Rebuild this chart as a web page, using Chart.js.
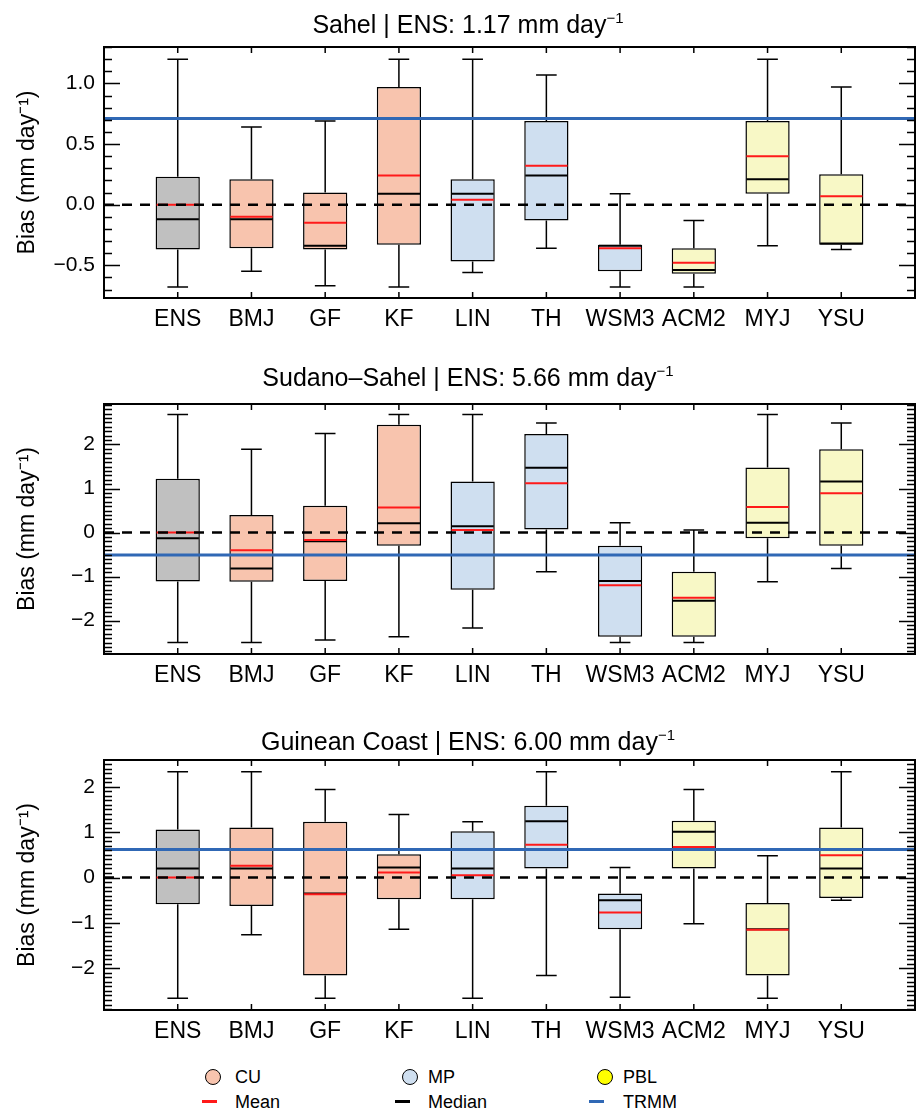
<!DOCTYPE html>
<html>
<head>
<meta charset="utf-8">
<script src="https://cdn.jsdelivr.net/npm/chart.js@4.4.1/dist/chart.umd.min.js"></script>
<style>
  body { margin: 0; background: #fff; font-family: "Liberation Sans", Arial, Helvetica, sans-serif; color: #000; }
  #page { position: relative; width: 923px; height: 1117px; overflow: hidden; }
  .panel { position: absolute; left: 0; width: 923px; }
  .title { position: absolute; left: 168px; width: 600px; text-align: center; font-size: 25px; line-height: 28px; white-space: nowrap; }
  .title sup { font-size: 15px; line-height: 0; vertical-align: 10px; }
  .leg { position: absolute; font-size: 18px; line-height: 20px; white-space: nowrap; }
  .dot { position: absolute; width: 14px; height: 14px; border: 1.5px solid #000; border-radius: 50%; }
  .dash { position: absolute; width: 15px; height: 3px; }
</style>
</head>
<body>
<div id="page">
  <div class="panel" style="top:0"><canvas id="c1" width="923" height="345"></canvas></div>
  <div class="panel" style="top:345px"><canvas id="c2" width="923" height="360"></canvas></div>
  <div class="panel" style="top:705px"><canvas id="c3" width="923" height="345"></canvas></div>

  <div class="title" style="top:10px">Sahel | ENS: 1.17 mm day<sup>−1</sup></div>
  <div class="title" style="top:363px">Sudano–Sahel | ENS: 5.66 mm day<sup>−1</sup></div>
  <div class="title" style="top:727px">Guinean Coast | ENS: 6.00 mm day<sup>−1</sup></div>

  <!-- legend -->
  <div class="dot" style="left:205px;top:1069px;background:#f8c4ae"></div>
  <div class="leg" style="left:235px;top:1067px">CU</div>
  <div class="dot" style="left:402px;top:1069px;background:#cfdff0"></div>
  <div class="leg" style="left:428px;top:1067px">MP</div>
  <div class="dot" style="left:597px;top:1069px;background:#ffff00"></div>
  <div class="leg" style="left:623px;top:1067px">PBL</div>

  <div class="dash" style="left:202px;top:1100px;background:#ff1a1a"></div>
  <div class="leg" style="left:235px;top:1092px">Mean</div>
  <div class="dash" style="left:395px;top:1100px;background:#000"></div>
  <div class="leg" style="left:428px;top:1092px">Median</div>
  <div class="dash" style="left:589px;top:1100px;background:#3068b5"></div>
  <div class="leg" style="left:623px;top:1092px">TRMM</div>
</div>

<script>
// categories
const categories = ['ENS', 'BMJ', 'GF', 'KF', 'LIN', 'TH', 'WSM3', 'ACM2', 'MYJ', 'YSU'];

// Sahel
const sahelLow    = [-0.68, -0.55, -0.67, -0.68, -0.56, -0.36, -0.68, -0.68, -0.34, -0.37];
const sahelQ1     = [-0.37, -0.36, -0.37, -0.33, -0.47, -0.13, -0.55, -0.57,  0.09, -0.33];
const sahelMedian = [-0.12, -0.12, -0.34,  0.09,  0.09,  0.24, -0.34, -0.54,  0.21, -0.32];
const sahelMean   = [ 0.00, -0.10, -0.15,  0.24,  0.04,  0.32, -0.36, -0.48,  0.40,  0.07];
const sahelQ3     = [ 0.23,  0.21,  0.10,  0.97,  0.21,  0.69, -0.33, -0.36,  0.69,  0.25];
const sahelHigh   = [ 1.20,  0.64,  0.69,  1.20,  1.20,  1.07,  0.09, -0.13,  1.20,  0.97];
const sahelTrmm = 0.71;
const sahelTicks = [-0.5, 0, 0.5, 1.0];

// Sudano-Sahel
const sudanLow    = [-2.50, -2.50, -2.44, -2.37, -2.17, -0.89, -2.50, -2.50, -1.12, -0.82];
const sudanQ1     = [-1.11, -1.12, -1.10, -0.30, -1.30,  0.07, -2.37, -2.37, -0.13, -0.30];
const sudanMedian = [-0.13, -0.82, -0.20,  0.21,  0.14,  1.47, -1.10, -1.55,  0.22,  1.16];
const sudanMean   = [ 0.00, -0.40, -0.17,  0.57,  0.06,  1.12, -1.20, -1.48,  0.58,  0.89];
const sudanQ3     = [ 1.22,  0.40,  0.61,  2.45,  1.16,  2.24, -0.30, -0.89,  1.48,  1.89];
const sudanHigh   = [ 2.68,  1.89,  2.25,  2.68,  2.68,  2.49,  0.22,  0.06,  2.68,  2.49];
const sudanTrmm = -0.51;
const sudanTicks = [-2, -1, 0, 1, 2];

// Guinean Coast
const guineaLow    = [-2.66, -1.26, -2.66, -1.14, -2.66, -2.16, -2.64, -1.02, -2.66, -0.50];
const guineaQ1     = [-0.59, -0.63, -2.16, -0.48, -0.48,  0.20, -1.14,  0.20, -2.16, -0.45];
const guineaMedian = [ 0.20,  0.20, -0.35,  0.22,  0.20,  1.24, -0.50,  1.01, -1.14,  0.20];
const guineaMean   = [ 0.00,  0.26, -0.37,  0.11,  0.05,  0.72, -0.77,  0.67, -1.15,  0.49];
const guineaQ3     = [ 1.06,  1.10,  1.23,  0.51,  1.02,  1.58, -0.35,  1.25, -0.56,  1.10];
const guineaHigh   = [ 2.33,  2.33,  1.94,  1.39,  1.23,  2.33,  0.22,  1.94,  0.48,  2.33];
const guineaTrmm = 0.62;
const guineaTicks = [-2, -1, 0, 1, 2];

// styles
const FONT = '"Liberation Sans", Arial, Helvetica, sans-serif';
const boxFill = ['#c0c0c0', '#f8c4ae', '#f8c4ae', '#f8c4ae', '#cfdff0', '#cfdff0', '#cfdff0', '#f8f8c6', '#f8f8c6', '#f8f8c6'];
const MEAN_COLOR = '#ff1a1a';
const TRMM_COLOR = '#3068b5';

function fmt(v, dec) {
    return v.toFixed(dec).replace('-', '\u2212');
}

function makePanel(id, p) {
    const labels = [''].concat(categories, ['']);
    const boxes = [null].concat(p.q1.map((q, i) => [q, p.q3[i]]), [null]);

    // whiskers, medians and means, drawn right after the boxes
    const whiskers = {
        id: 'whiskers',
        afterDatasetDraw(chart, args) {
            if (args.index !== 0) return;
            const { ctx, scales: { x, y } } = chart;
            const unit = x.getPixelForValue(1) - x.getPixelForValue(0);
            const half = unit * 0.3, cap = unit * 0.14;
            ctx.save();
            categories.forEach((c, i) => {
                const cx = x.getPixelForValue(i + 1);
                const yLow = y.getPixelForValue(p.low[i]), yHigh = y.getPixelForValue(p.high[i]);
                const yQ1 = y.getPixelForValue(p.q1[i]), yQ3 = y.getPixelForValue(p.q3[i]);
                ctx.strokeStyle = '#000';
                ctx.lineWidth = 1.5;
                ctx.beginPath();
                ctx.moveTo(cx, yQ3); ctx.lineTo(cx, yHigh);
                ctx.moveTo(cx - cap, yHigh); ctx.lineTo(cx + cap, yHigh);
                ctx.moveTo(cx, yQ1); ctx.lineTo(cx, yLow);
                ctx.moveTo(cx - cap, yLow); ctx.lineTo(cx + cap, yLow);
                ctx.stroke();
                // median
                ctx.lineWidth = 2;
                const ym = y.getPixelForValue(p.median[i]);
                ctx.beginPath();
                ctx.moveTo(cx - half + 1, ym); ctx.lineTo(cx + half - 1, ym);
                ctx.stroke();
                // mean
                ctx.strokeStyle = MEAN_COLOR;
                const ya = y.getPixelForValue(p.mean[i]);
                ctx.beginPath();
                ctx.moveTo(cx - half + 1, ya); ctx.lineTo(cx + half - 1, ya);
                ctx.stroke();
            });
            ctx.restore();
        }
    };

    // frame with inward major / minor ticks
    const frame = {
        id: 'frame',
        afterDraw(chart) {
            const { ctx, chartArea: a, scales: { x, y } } = chart;
            ctx.save();
            ctx.strokeStyle = '#000';
            ctx.lineWidth = 1.5;
            ctx.beginPath();
            for (let k = Math.ceil(p.min * 10); k <= Math.floor(p.max * 10); k++) {
                const v = k / 10;
                const isMajor = p.ticks.some(t => Math.abs(t - v) < 1e-6);
                const len = isMajor ? 16 : 8;
                const py = Math.round(y.getPixelForValue(v)) + 0.5;
                ctx.moveTo(a.left, py); ctx.lineTo(a.left + len, py);
                ctx.moveTo(a.right, py); ctx.lineTo(a.right - len, py);
            }
            categories.forEach((c, i) => {
                const px = x.getPixelForValue(i + 1);
                ctx.moveTo(px, a.top); ctx.lineTo(px, a.top + 6);
                ctx.moveTo(px, a.bottom); ctx.lineTo(px, a.bottom - 6);
            });
            ctx.stroke();
            ctx.lineWidth = 2;
            ctx.strokeRect(a.left, a.top, a.right - a.left, a.bottom - a.top);
            ctx.restore();
        }
    };

    return new Chart(document.getElementById(id), {
        type: 'bar',
        data: {
            labels: labels,
            datasets: [
                {
                    data: boxes,
                    backgroundColor: [null].concat(boxFill, [null]),
                    borderColor: '#000',
                    borderWidth: 1.5,
                    borderSkipped: false,
                    barPercentage: 1,
                    categoryPercentage: 0.6,
                    order: 3
                },
                {
                    type: 'line',
                    data: labels.map(() => 0),
                    borderColor: '#000',
                    borderWidth: 2.5,
                    borderDash: [10, 8],
                    pointRadius: 0,
                    order: 2
                },
                {
                    type: 'line',
                    data: labels.map(() => p.trmm),
                    borderColor: TRMM_COLOR,
                    borderWidth: 3,
                    pointRadius: 0,
                    order: 1
                }
            ]
        },
        options: {
            responsive: false,
            animation: false,
            devicePixelRatio: 1,
            layout: { padding: { top: p.padTop, right: 3, left: 0, bottom: 0 } },
            plugins: { legend: { display: false }, tooltip: { enabled: false }, title: { display: false } },
            scales: {
                x: {
                    type: 'category',
                    offset: false,
                    grid: { display: false, drawTicks: false },
                    border: { display: false },
                    ticks: { color: '#000', font: { family: FONT, size: 23 }, padding: 8, autoSkip: false, maxRotation: 0 },
                    afterFit: s => { s.height = p.xHeight; }
                },
                y: {
                    min: p.min,
                    max: p.max,
                    grid: { display: false, drawTicks: false },
                    border: { display: false },
                    ticks: { color: '#000', font: { family: FONT, size: 21 }, padding: 9, callback: v => fmt(v, p.dec) },
                    afterBuildTicks: s => { s.ticks = p.ticks.map(v => ({ value: v })); },
                    afterFit: s => { s.width = 104; },
                    title: {
                        display: true,
                        text: 'Bias (mm day\u207B\u00B9)',
                        color: '#000',
                        font: { family: FONT, size: 23 },
                        padding: { top: 14, bottom: 0 }
                    }
                }
            }
        },
        plugins: [whiskers, frame]
    });
}

makePanel('c1', {
    low: sahelLow, q1: sahelQ1, median: sahelMedian, mean: sahelMean, q3: sahelQ3, high: sahelHigh,
    trmm: sahelTrmm, ticks: sahelTicks, min: -0.77, max: 1.30, dec: 1, padTop: 47, xHeight: 47
});
makePanel('c2', {
    low: sudanLow, q1: sudanQ1, median: sudanMedian, mean: sudanMean, q3: sudanQ3, high: sudanHigh,
    trmm: sudanTrmm, ticks: sudanTicks, min: -2.76, max: 2.92, dec: 0, padTop: 59, xHeight: 51
});
makePanel('c3', {
    low: guineaLow, q1: guineaQ1, median: guineaMedian, mean: guineaMean, q3: guineaQ3, high: guineaHigh,
    trmm: guineaTrmm, ticks: guineaTicks, min: -2.92, max: 2.59, dec: 0, padTop: 55, xHeight: 40
});
</script>
</body>
</html>
